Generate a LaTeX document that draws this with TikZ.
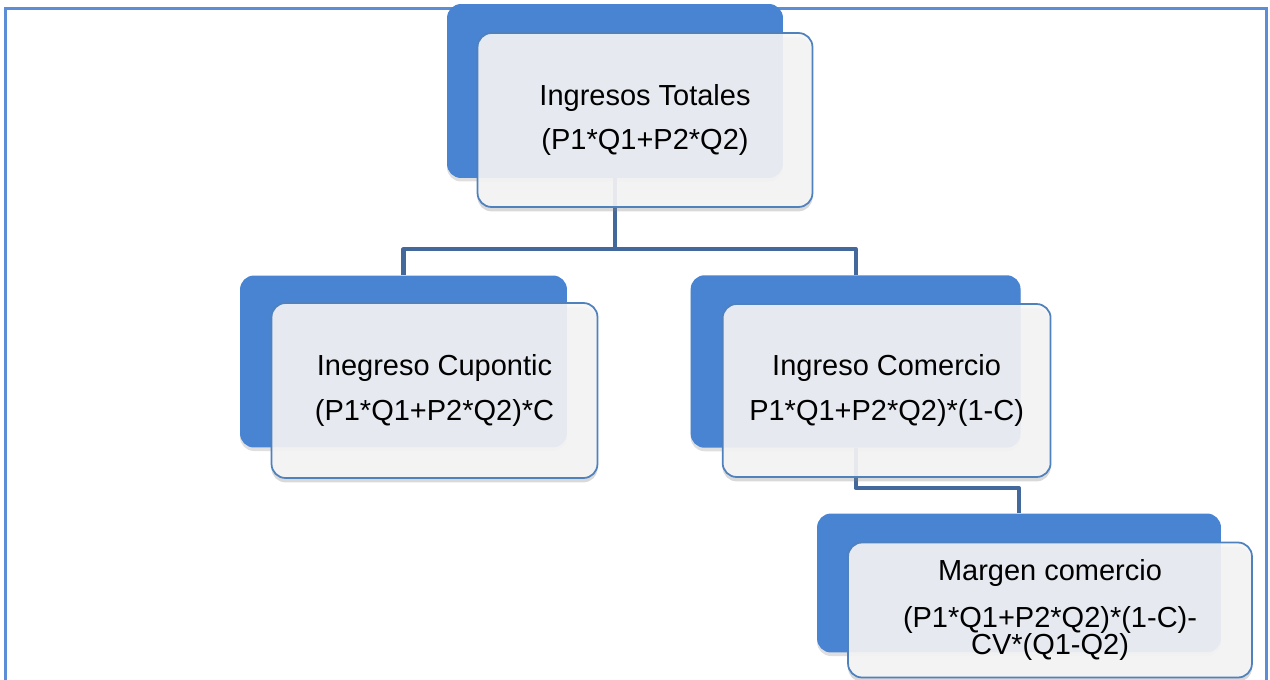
\documentclass[tikz,border=0pt]{standalone}
\usepackage{fontspec}
\setmainfont{Liberation Sans}
\usepackage{tikz}
\usetikzlibrary{positioning,shadows}
\usepackage{xcolor}
\definecolor{FrameBlue}{RGB}{91,142,214}
\definecolor{BoxBlue}{RGB}{72,132,210}
\definecolor{EdgeBlue}{RGB}{79,129,189}
\definecolor{LinkBlue}{RGB}{66,104,156}
\definecolor{CardGray}{RGB}{246,246,247}

\begin{document}
\begin{tikzpicture}[x=0.02cm,y=-0.02cm,
  backbox/.style={rounded corners=0.28cm,minimum width=6.6cm,minimum height=3.45cm,
    fill=BoxBlue,
    drop shadow={opacity=0.25,shadow xshift=0pt,shadow yshift=-2pt}},
  frontbox/.style={draw=EdgeBlue,line width=1pt,fill=CardGray,fill opacity=0.9,
    text opacity=1,rounded corners=0.28cm,minimum width=6.6cm,minimum height=3.45cm,
    align=center,font=\fontsize{16.5}{15.4}\selectfont,
    drop shadow={opacity=0.3,shadow xshift=0pt,shadow yshift=-2.5pt}},
  link/.style={draw=LinkBlue,line width=2.3pt,line join=round}]
\useasboundingbox (0,0) rectangle (1270,679);
\clip (0,0) rectangle (1270,679);

% outer frame
\draw[FrameBlue,line width=0.06cm] (5.5,8.5) rectangle (1266.5,720);

% blue back plates
\node[backbox,minimum width=6.72cm,minimum height=3.48cm] (totb) at (615,91) {};
\node[backbox,minimum width=6.54cm,minimum height=3.44cm] (cupb) at (403.5,361.5) {};
\node[backbox,right=2.46cm of cupb] (comb) {};
\node[backbox,minimum width=8.08cm,minimum height=2.78cm] (marb) at (1019,583) {};

% tree links between the plates
\draw[link] (cupb.north) -- ++(0,-26) -| (totb.south);
\draw[link] (comb.north) -- ++(0,-26) -| (totb.south);
\draw[link] (marb.north) -- ++(0,-25) -| (comb.south);

% text cards on top
\node[frontbox,minimum width=6.7cm,minimum height=3.48cm] (tot)
  at ([shift={(30,29)}]totb.center) {Ingresos Totales\\[10.2pt](P1*Q1+P2*Q2)};
\node[frontbox,minimum width=6.52cm,minimum height=3.5cm] (cup)
  at ([shift={(31,29)}]cupb.center) {Inegreso Cupontic\\[10.2pt](P1*Q1+P2*Q2)*C};
\node[frontbox,minimum width=6.56cm,minimum height=3.46cm] (com)
  at ([shift={(31,29)}]comb.center) {Ingreso Comercio\\[10.2pt]P1*Q1+P2*Q2)*(1-C)};
\node[frontbox,minimum width=8.08cm,minimum height=2.7cm] (mar)
  at ([shift={(31,27)}]marb.center)
  {Margen comercio\\[11.3pt](P1*Q1+P2*Q2)*(1-C)-\\CV*(Q1-Q2)};
\end{tikzpicture}
\end{document}
